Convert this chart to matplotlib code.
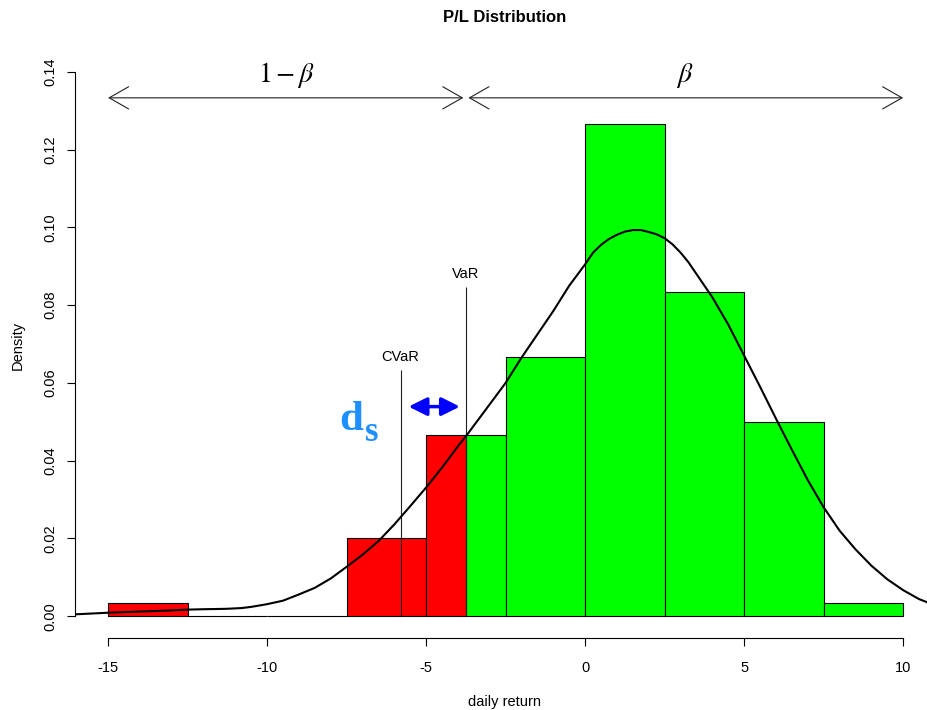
import numpy as np
import matplotlib
matplotlib.use("Agg")
import matplotlib.pyplot as plt

# histogram of daily returns (density scale), bins of width 2.5
binEdges = [-15, -12.5, -10, -7.5, -5, -2.5, 0, 2.5, 5, 7.5, 10]
binDensity = [0.00333, 0.0, 0.0, 0.02, 0.04667, 0.06667, 0.12667, 0.08333, 0.05, 0.00333]

# fitted density curve
curveX = [-16.0, -15.5, -15.0, -14.0, -13.0, -12.5, -12.0, -11.3, -10.8, -10.5,
          -10.0, -9.5, -9.0, -8.5, -8.0, -7.5, -7.0, -6.5, -6.0, -5.5,
          -5.0, -4.5, -4.0, -3.72, -3.0, -2.5, -2.0, -1.5, -1.0, -0.5,
          0.0, 0.25, 0.5, 0.75, 1.0, 1.25, 1.5, 1.75, 2.0, 2.25,
          2.5, 2.75, 3.0, 3.25, 3.5, 3.75, 4.0, 4.5,
          5.0, 5.5, 6.0, 6.5, 7.0, 7.5, 8.0, 8.5, 9.0, 9.5,
          10.0, 10.5, 11.0]
curveY = [0.0005, 0.0007, 0.0009, 0.0012, 0.0015, 0.0017, 0.0018, 0.0019, 0.0021, 0.0024,
          0.0031, 0.0040, 0.0056, 0.0073, 0.0097, 0.0127, 0.0158, 0.0193, 0.0236, 0.0283,
          0.0331, 0.0382, 0.0437, 0.0466, 0.0545, 0.0600, 0.0665, 0.0725, 0.0785, 0.0850,
          0.0905, 0.0935, 0.0955, 0.0970, 0.0981, 0.0989, 0.0993, 0.0993, 0.0988, 0.0982,
          0.0972, 0.0956, 0.0935, 0.0910, 0.0880, 0.0850, 0.0820, 0.0750,
          0.0670, 0.0590, 0.0508, 0.0428, 0.0350, 0.0280, 0.0220, 0.0172, 0.0130, 0.0095,
          0.0067, 0.0044, 0.0028]

valueAtRisk = -3.75
condValueAtRisk = -5.8
varLineTop = 0.0846
cvarLineTop = 0.0633
betaArrowY = 0.1333
dsArrow = (-5.55, -3.94, 0.0539)

xTicks = [-15, -10, -5, 0, 5, 10]
yTicks = [0.00, 0.02, 0.04, 0.06, 0.08, 0.10, 0.12, 0.14]

plt.rcParams['font.family'] = ['Liberation Sans', 'DejaVu Sans']
plt.rcParams['mathtext.fontset'] = 'stix'

fig = plt.figure(figsize=(9.27, 7.10), dpi=100)
W, H = 927, 710
ax = fig.add_axes([75 / W, 72 / H, (935 - 75) / W, (660 - 72) / H])
ax.set_xlim(-16.04, 11.0)
ax.set_ylim(-0.0056, 0.1456)

# bars, split in red / green at the VaR
for left, right, d in zip(binEdges[:-1], binEdges[1:], binDensity):
    if left < valueAtRisk:
        r = min(right, valueAtRisk)
        ax.bar(left, d, width=r - left, align='edge', color='#ff0000',
               edgecolor='black', linewidth=0.8, zorder=2)
    if right > valueAtRisk:
        l = max(left, valueAtRisk)
        ax.bar(l, d, width=right - l, align='edge', color='#00ff00',
               edgecolor='black', linewidth=0.8, zorder=2)

ax.plot(curveX, curveY, color='black', linewidth=1.5, zorder=4,
        solid_joinstyle='round')

# VaR / CVaR markers
ax.vlines([valueAtRisk, condValueAtRisk], 0, [varLineTop, cvarLineTop],
          color='#222222', linewidth=0.8, zorder=3)
ax.text(valueAtRisk, varLineTop + 0.0015, 'VaR', ha='center', va='bottom', fontsize=10.5)
ax.text(condValueAtRisk, cvarLineTop + 0.0015, 'CVaR', ha='center', va='bottom', fontsize=10.5)

# beta arrows along the top
gap = 0.08
for x0, x1 in [(-15, valueAtRisk - gap), (valueAtRisk + gap, 10)]:
    ax.annotate('', xy=(x0, betaArrowY), xytext=(x1, betaArrowY),
                arrowprops=dict(arrowstyle='<->,head_length=14,head_width=8',
                                mutation_scale=1, lw=0.8, color='#222222',
                                shrinkA=0, shrinkB=0))
ax.text((-15 + valueAtRisk) / 2, betaArrowY + 0.002, r'$1-\beta$',
        ha='center', va='bottom', fontsize=20)
ax.text((valueAtRisk + 10) / 2, betaArrowY + 0.002, r'$\beta$',
        ha='center', va='bottom', fontsize=20)

# d_s arrow
ax.annotate('', xy=(dsArrow[0], dsArrow[2]), xytext=(dsArrow[1], dsArrow[2]),
            arrowprops=dict(arrowstyle='<|-|>,head_length=11,head_width=5.5',
                            mutation_scale=1, lw=2.5, color='#0000ff',
                            shrinkA=0, shrinkB=0))
ax.text(-7.72, 0.0479, 'd', color='#1e8fff', fontsize=31, fontweight='bold',
        family='Liberation Serif', ha='left', va='baseline')
ax.text(-6.92, 0.0450, 's', color='#1e8fff', fontsize=25, fontweight='bold',
        family='Liberation Serif', ha='left', va='baseline')

# R-style axes
for s in ['top', 'right']:
    ax.spines[s].set_visible(False)
ax.spines['bottom'].set_bounds(-15, 10)
ax.spines['left'].set_bounds(0, 0.14)
for s in ['bottom', 'left']:
    ax.spines[s].set_linewidth(0.8)
ax.set_xticks(xTicks)
ax.set_xticklabels([str(t) for t in xTicks])
ax.set_yticks(yTicks)
ax.set_yticklabels(['%.2f' % t for t in yTicks], rotation=90, va='center')
ax.tick_params(axis='x', length=6, width=0.8, pad=10.5, labelsize=10.5)
ax.tick_params(axis='y', length=6, width=0.8, pad=7, labelsize=10.5)

fig.text(505 / W, 1 - 18 / H, 'P/L Distribution', ha='center', va='center',
         fontsize=12, fontweight='bold')
fig.text(505 / W, 1 - 702 / H, 'daily return', ha='center', va='center', fontsize=10.5)
fig.text(18 / W, 1 - 345 / H, 'Density', ha='center', va='center', rotation=90,
         fontsize=10.5)

fig.savefig('out.png', dpi=100)
